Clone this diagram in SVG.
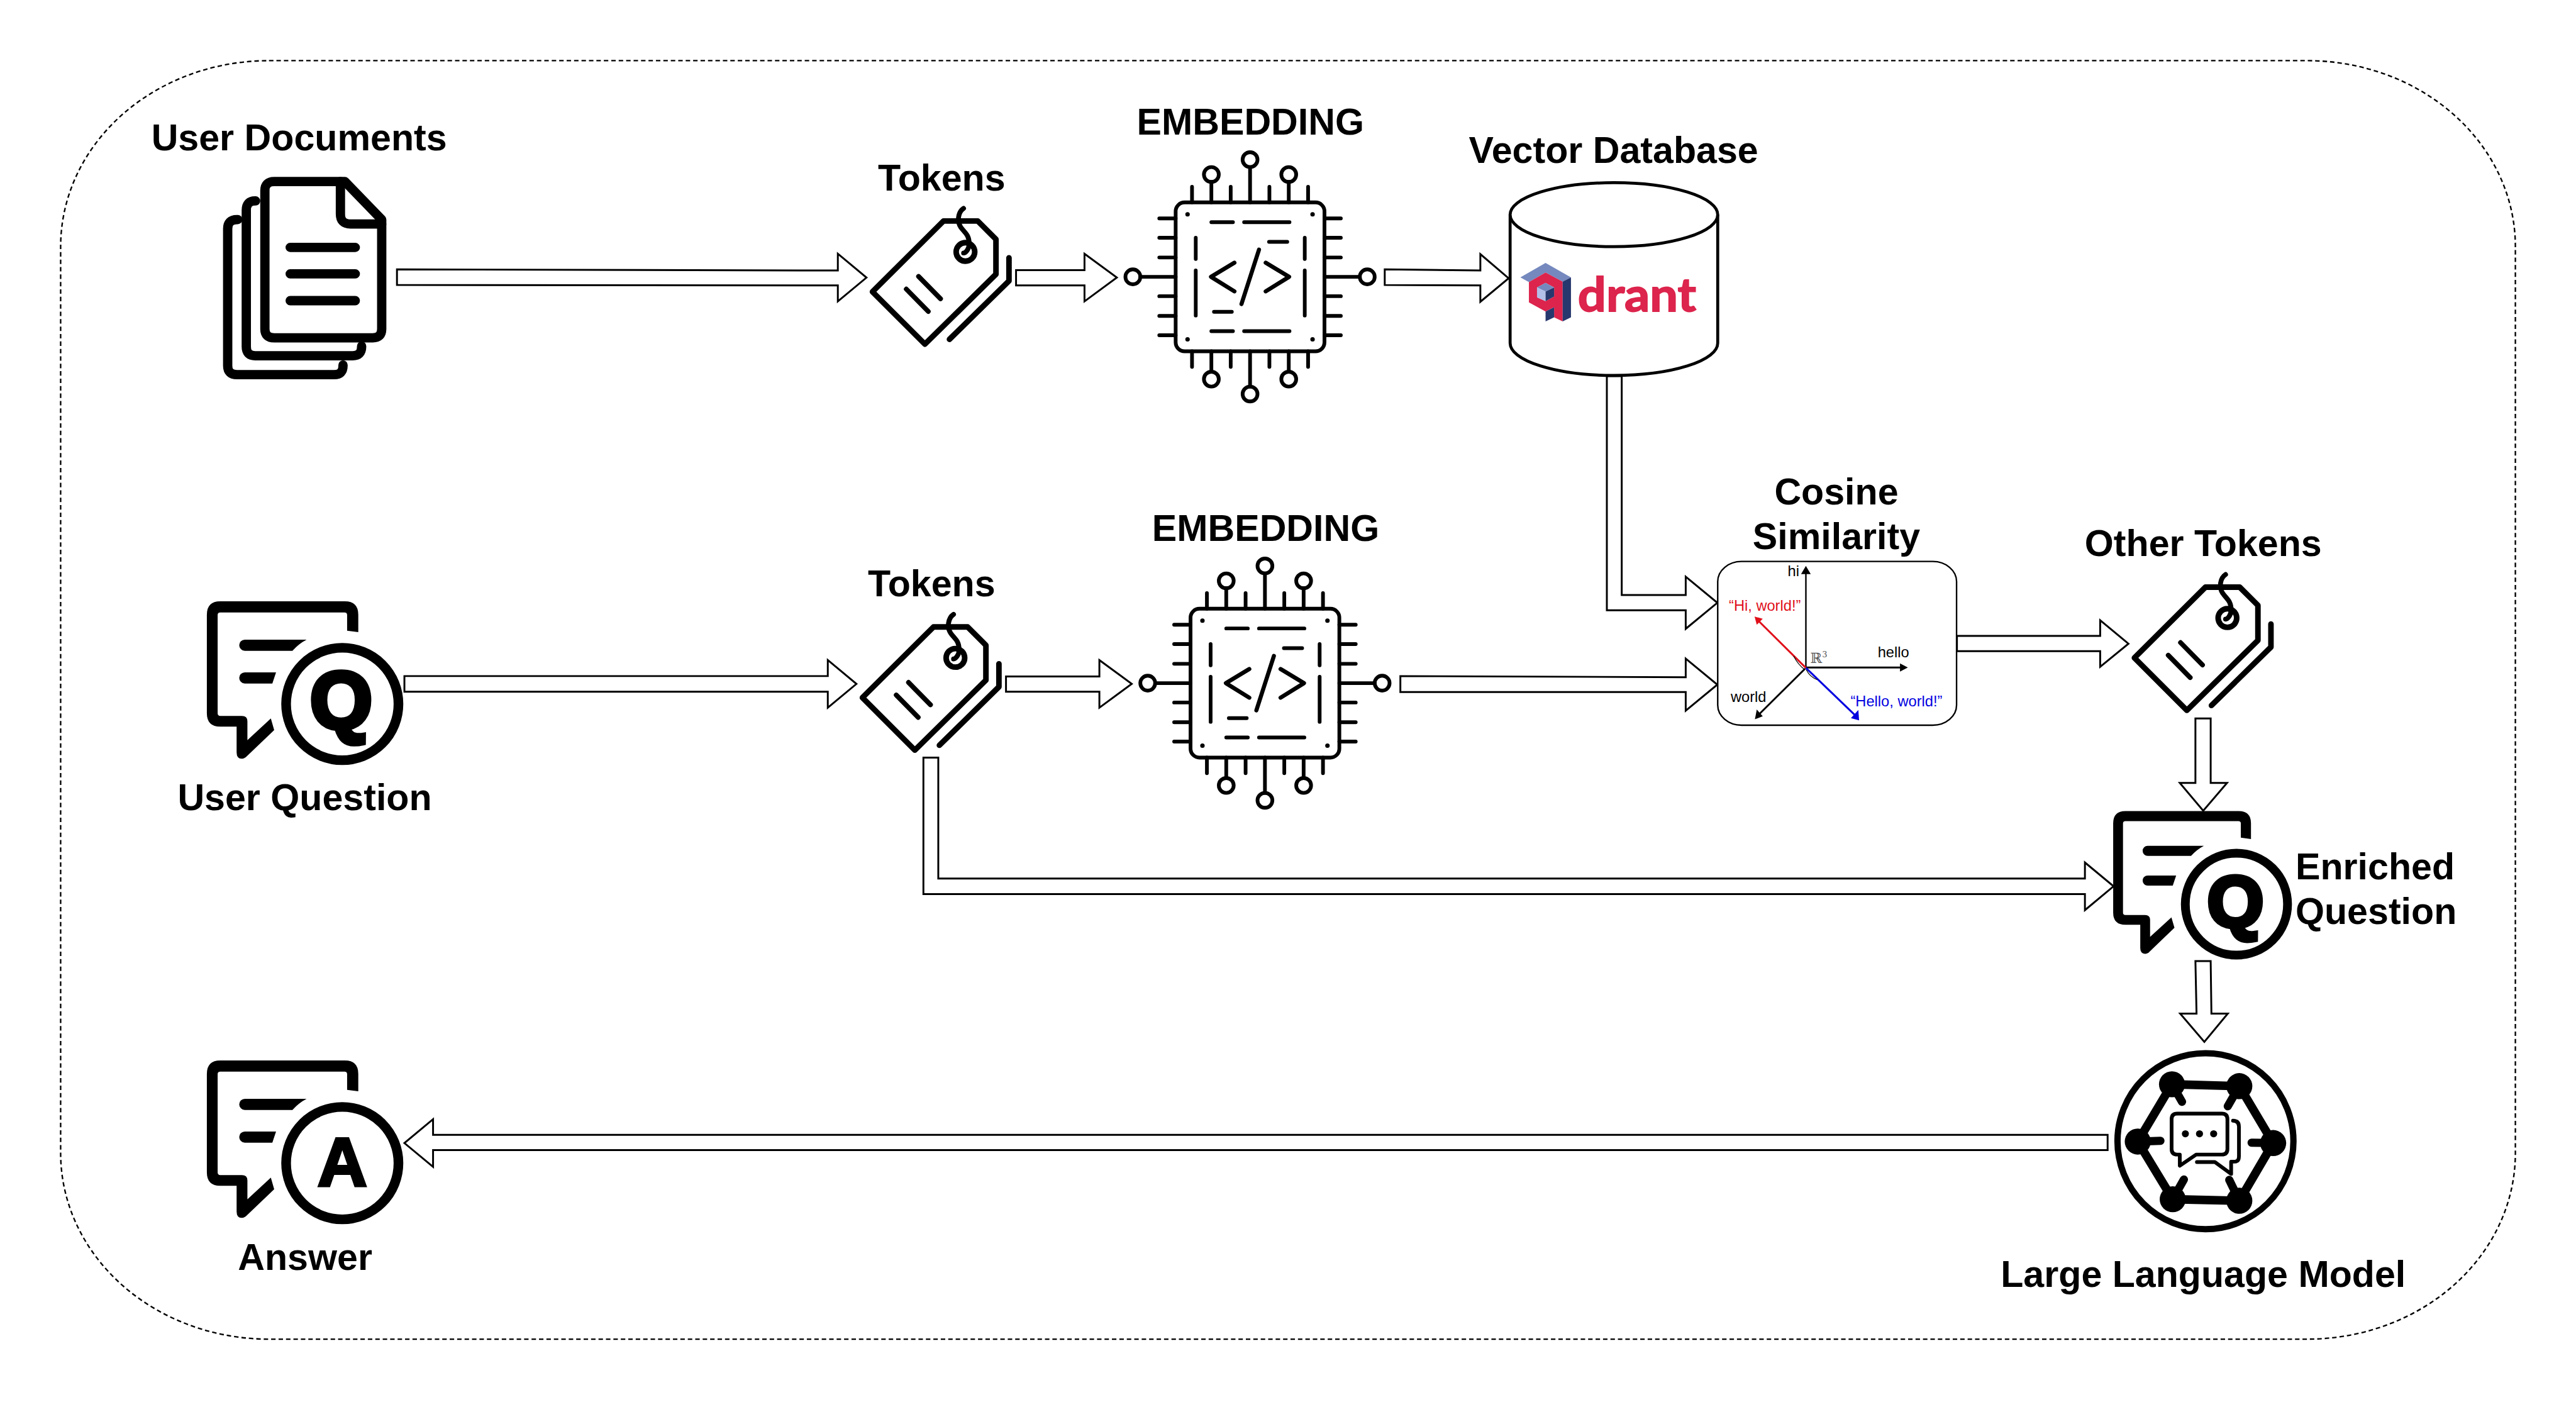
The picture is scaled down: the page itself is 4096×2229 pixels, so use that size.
<svg xmlns="http://www.w3.org/2000/svg" xmlns:xlink="http://www.w3.org/1999/xlink" width="4096" height="2229" viewBox="0 0 4096 2229">
<style>
.lbl{font-family:"Liberation Sans",Arial,sans-serif;font-weight:700;font-size:100px;fill:#000}
.m{text-anchor:middle}
.arrow{fill:#fff;stroke:#000;stroke-width:5;stroke-linejoin:miter}
.ico{fill:none;stroke:#000;stroke-linecap:round;stroke-linejoin:round}
.small{font-family:"Liberation Sans",Arial,sans-serif;font-size:40px}
.letter{font-family:"Liberation Sans",Arial,sans-serif;font-weight:700;fill:#000;stroke:#000;text-anchor:middle}
</style>
<defs>
<g id="tag">
<path class="ico" stroke-width="15" stroke-linejoin="miter" d="M2536 594H2628L2677 643V737L2486 925L2345 784Z"/>
<path class="ico" stroke-width="15" d="M2712 693V755L2552 912"/>
<path class="ico" stroke-width="13" d="M2469 743L2528 803M2436 777L2495 837"/>
<circle class="ico" stroke-width="15" cx="2595" cy="677" r="25"/>
<path class="ico" stroke-width="13" d="M2590 560C2575 570 2572 595 2582 610C2592 625 2605 630 2605 655C2605 670 2595 680 2590 680"/>
</g>
<g id="chip">
<rect class="ico" stroke-width="10" x="-200" y="-200" width="400" height="400" rx="24"/>
<path class="ico" stroke-width="10" d="M-156-200V-242M-52-200V-242M52-200V-242M156-200V-242M-104-200V-255M0-200V-295M104-200V-255M-156 200V242M-52 200V242M52 200V242M156 200V242M-104 200V255M0 200V295M104 200V255M-200-157H-244M-200-105H-244M-200-52H-244M-200 52H-244M-200 105H-244M-200 157H-244M-200 0H-295M200-157H244M200-105H244M200-52H244M200 52H244M200 105H244M200 157H244M200 0H295"/>
<path class="ico" stroke-width="10" d="M-104-147H-46M-16-147H106M-104 146H-46M-16 146H106M-146-105V-48M-146-17V104M147-105V-48M147-17V104M51-94H100M-97 94H-49"/>
<path class="ico" stroke-width="11" d="M-42-38L-105 0L-42 39M42-38L105 0L42 39M24-73L-23 73"/>
<g fill="#000"><circle cx="-168" cy="-168" r="6"/><circle cx="168" cy="-168" r="6"/><circle cx="-168" cy="168" r="6"/><circle cx="168" cy="168" r="6"/></g>
<g class="ico" stroke-width="10" fill="#fff"><circle cx="-104" cy="-275" r="20"/><circle cx="0" cy="-315" r="20"/><circle cx="104" cy="-275" r="20"/><circle cx="-104" cy="275" r="20"/><circle cx="0" cy="315" r="20"/><circle cx="104" cy="275" r="20"/><circle cx="-315" cy="0" r="20"/><circle cx="315" cy="0" r="20"/></g>
</g>
<g id="bubble">
<path fill="#000" d="M963 1699V1652Q963 1616 927 1616H592Q556 1616 556 1652V1917Q556 1953 592 1953H636V2022Q636 2039 650 2039Q658 2039 664 2032L737 1962L728 1931L665 1989V1938Q665 1924 650 1924H592Q585 1924 585 1917V1653Q585 1646 592 1646H926Q933 1646 933 1653V1695Z"/>
<path fill="#000" d="M658 1719H824Q803 1730 786 1749H658A15 15 0 0 1 658 1719Z"/>
<path fill="#000" d="M658 1807H742L732 1837H658A15 15 0 0 1 658 1807Z"/>
<circle fill="none" stroke="#000" stroke-width="26" cx="920" cy="1892" r="151"/>
</g>
</defs>
<rect width="4096" height="2229" fill="#fff"/>
<g transform="scale(0.59157)">
<rect id="boundary" x="163" y="163" width="6598" height="3436" rx="560" ry="500" fill="none" stroke="#000" stroke-width="4" stroke-dasharray="12 8"/>

<g id="connectors">
<path class="arrow" d="M1067 724L2252 727V682L2329 746L2252 810V767L1067 766Z"/>
<path class="arrow" d="M2731 726H2915V682L3002 746L2915 810V767H2731Z"/>
<path class="arrow" d="M3722 724L3979 727V683L4055 748L3979 811V767L3722 766Z"/>
<path class="arrow" d="M4319 1011V1640H4531V1690L4616 1620L4531 1550V1599H4359V1011Z"/>
<path class="arrow" d="M1087 1817H2225V1774L2302 1838L2225 1902V1859H1087Z"/>
<path class="arrow" d="M2704 1818H2955V1774L3042 1838L2955 1902V1859H2704Z"/>
<path class="arrow" d="M3764 1817L4531 1820V1770L4616 1840L4531 1910V1860L3764 1860Z"/>
<path class="arrow" d="M5260 1709H5645V1667L5721 1730L5645 1792V1750H5260Z"/>
<path class="arrow" d="M5901 1931H5942V2104H5986L5922 2179L5859 2104H5901Z"/>
<path class="arrow" d="M2482 2036H2522V2361H5604V2318L5681 2382L5604 2446V2403H2482Z"/>
<path class="arrow" d="M5901 2583H5942L5944 2724H5988L5925 2800L5860 2724H5904Z"/>
<path class="arrow" d="M5665 3050H1164V3008L1087 3072L1164 3136V3091H5665Z"/>
</g>

<g id="user-documents">
<text class="lbl m" x="804" y="404">User Documents</text>
<path class="ico" stroke-width="25" stroke-linecap="butt" d="M927 488H737Q712 488 712 512V884Q712 908 737 908H1002Q1026 908 1026 884V590Z"/>
<path class="ico" stroke-width="25" stroke-linecap="butt" d="M915 488V575Q915 602 942 602H1026"/>
<path class="ico" stroke-width="25" d="M780 665H955M780 736H955M780 808H955"/>
<path class="ico" stroke-width="25" stroke-linecap="butt" d="M687 540H686Q662 540 662 565V932Q662 956 686 956H948Q972 956 972 932V930"/>
<path class="ico" stroke-width="25" stroke-linecap="butt" d="M639 590H637Q612 590 612 615V983Q612 1007 637 1007H898Q922 1007 922 983V981"/>
</g>

<g id="tokens-1">
<text class="lbl m" x="2531" y="512">Tokens</text>
<use href="#tag"/>
</g>

<g id="embedding-1">
<text class="lbl m" x="3361" y="362">EMBEDDING</text>
<use href="#chip" transform="translate(3360 744)"/>
</g>

<g id="vector-database">
<text class="lbl m" x="4337" y="438">Vector Database</text>
<path d="M4059 577V922A279 87 0 0 0 4617 922V577" fill="#fff" stroke="#000" stroke-width="8"/>
<ellipse cx="4338" cy="577" rx="279" ry="86" fill="#fff" stroke="#000" stroke-width="8"/>
<g transform="translate(3900 400) scale(.574 .446)">
<path fill="#7589be" d="M443 687L562 775L523 800L443 745L365 803L325 775Z"/>
<path fill="#dc244c" fill-rule="evenodd" d="M365 803L443 745L523 800V1040L483 1015V955L443 980L365 925ZM403 835V895L443 918L483 890V835L443 808Z"/>
<path fill="#27386e" d="M523 800L562 775V1015L523 1040Z"/>
<path fill="#27386e" d="M443 980L483 955V1015L443 1040Z"/>
<path fill="#7589be" d="M403 835L443 808L483 835L443 860Z"/>
<path fill="#b2bfe8" d="M403 835L443 860V918L403 895Z"/>
<path fill="#27386e" d="M443 860L483 835V890L443 918Z"/>
</g>
<text x="4241" y="837" font-family="Lato,'Noto Sans',sans-serif" font-weight="700" font-size="126" fill="#dc244c" stroke="#dc244c" stroke-width="3" textLength="318" lengthAdjust="spacingAndGlyphs">drant</text>
</g>

<g id="user-question">
<use href="#bubble"/>
<text class="letter" x="917" y="1958" font-size="215" stroke-width="13">Q</text>
<text class="lbl m" x="819" y="2178">User Question</text>
</g>

<g id="tokens-2">
<text class="lbl m" x="2504" y="1603">Tokens</text>
<use href="#tag" transform="translate(-27 1091)"/>
</g>

<g id="embedding-2">
<text class="lbl m" x="3402" y="1454">EMBEDDING</text>
<use href="#chip" transform="translate(3400 1836)"/>
</g>

<g id="cosine-similarity">
<text class="lbl m" x="4936" y="1356">Cosine</text>
<text class="lbl m" x="4936" y="1476">Similarity</text>
<rect x="4617" y="1509" width="642" height="440" rx="64" ry="54" fill="#fff" stroke="#000" stroke-width="4"/>
<g fill="none" stroke-width="5">
<path stroke="#000" stroke-width="4" d="M4854 1795V1535"/>
<path stroke="#000" d="M4854 1794H5110"/>
<path stroke="#000" d="M4852 1797L4728 1920"/>
<path stroke="#e0101a" d="M4854 1795L4726 1668"/>
<path stroke="#0000e0" d="M4854 1795L4988 1924"/>
<path stroke="#000" stroke-width="2" d="M4821 1763Q4832 1785 4851 1800M4855 1800Q4865 1820 4885 1827"/>
</g>
<path d="M4854 1521L4867 1543H4841Z" fill="#000"/>
<path d="M5128 1794L5107 1783V1805Z" fill="#000"/>
<path d="M4717 1933L4738 1925L4722 1907Z" fill="#000"/>
<path d="M4716 1657L4738 1663L4722 1679Z" fill="#e0101a"/>
<path d="M4997 1936L4995 1908L4975 1930Z" fill="#0000e0"/>
<text class="small" x="4805" y="1549" fill="#000">hi</text>
<text class="small" x="4647" y="1642" fill="#e0101a">“Hi, world!”</text>
<text class="small" x="5047" y="1767" fill="#000">hello</text>
<text class="small" x="4652" y="1886" fill="#000">world</text>
<text class="small" x="4974" y="1899" fill="#0000e0">“Hello, world!”</text>
<text x="4866" y="1782" font-family="'DejaVu Serif',serif" font-size="38" fill="#555">ℝ<tspan font-size="22" dy="-16">3</tspan></text>
</g>

<g id="other-tokens">
<text class="lbl m" x="5922" y="1494">Other Tokens</text>
<use href="#tag" transform="translate(3392 984)"/>
</g>

<g id="enriched-question">
<g transform="translate(5174 714) scale(.91 .907)">
<use href="#bubble"/>
<text class="letter" x="917" y="1958" font-size="215" stroke-width="13">Q</text>
</g>
<text class="lbl" x="6170" y="2364">Enriched</text>
<text class="lbl" x="6170" y="2484">Question</text>
</g>

<g id="large-language-model">
<circle cx="5928" cy="3067" r="236.5" fill="none" stroke="#000" stroke-width="17"/>
<path class="ico" stroke-width="23" stroke-linecap="butt" d="M5838 2914L6019 2919L6110 3072L6019 3227L5840 3223L5746 3068Z"/>
<g fill="#000"><circle cx="5838" cy="2914" r="35"/><circle cx="6019" cy="2919" r="35"/><circle cx="5746" cy="3068" r="35"/><circle cx="6110" cy="3072" r="35"/><circle cx="5840" cy="3223" r="35"/><circle cx="6019" cy="3227" r="35"/></g>
<path class="ico" stroke-width="22" d="M5838 2914L5865 2961M6019 2919L5988 2973M5746 3068L5807 3066M6110 3072L6052 3071M5840 3223L5870 3170M6019 3227L5992 3171"/>
<path class="ico" stroke-width="10" d="M5852 2993H5972Q5987 2993 5987 3008V3088Q5987 3103 5972 3103H5903L5859 3133V3103H5852Q5837 3103 5837 3088V3008Q5837 2993 5852 2993Z"/>
<path class="ico" stroke-width="10" d="M6002 3012Q6018 3012 6018 3028V3108Q6018 3122 6007 3122H5997V3155L5953 3123H5905"/>
<g fill="#000"><circle cx="5874" cy="3047" r="9.5"/><circle cx="5912" cy="3047" r="9.5"/><circle cx="5950" cy="3047" r="9.5"/></g>
<text class="lbl m" x="5922" y="3459">Large Language Model</text>
</g>

<g id="answer">
<use href="#bubble" transform="translate(0 1234)"/>
<text class="letter" x="920" y="3186" font-size="185" stroke-width="7">A</text>
<text class="lbl m" x="820" y="3413">Answer</text>
</g>
</g>
</svg>
